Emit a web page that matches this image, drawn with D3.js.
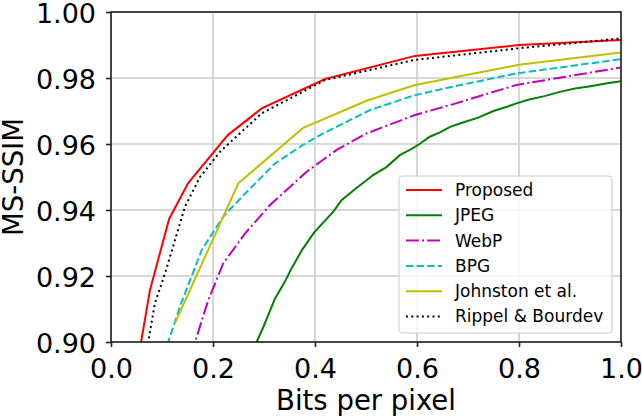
<!DOCTYPE html>
<html>
<head>
<meta charset="utf-8">
<script src="https://cdn.jsdelivr.net/npm/d3@7"></script>
<style>
body{margin:0;background:#fff;}
text{font-family:"DejaVu Sans",sans-serif;fill:#000;}
</style>
</head>
<body>
<svg id="chart" width="642" height="418"></svg>
<script>
//data, [bits per pixel, ms-ssim]
var proposed=[[0.048,0.89],[0.059,0.900],[0.0765,0.9158],[0.114,0.9373],[0.151,0.9481],[0.229,0.9627],[0.2955,0.9708],[0.42,0.9797],[0.596,0.9867],[0.8,0.990],[1.0,0.9915]];
var jpeg=[[0.258,0.890],[0.2856,0.900],[0.30,0.905],[0.3216,0.9132],[0.34,0.918],[0.354,0.9223],[0.375,0.928],[0.397,0.9329],[0.415,0.936],[0.436,0.9395],[0.452,0.943],[0.48,0.9465],[0.501,0.949],[0.514,0.9506],[0.54,0.953],[0.567,0.9567],[0.586,0.9582],[0.605,0.960],[0.625,0.9622],[0.645,0.9635],[0.665,0.9652],[0.69,0.9665],[0.72,0.968],[0.75,0.970],[0.775,0.9712],[0.795,0.9723],[0.82,0.9735],[0.85,0.9745],[0.88,0.9758],[0.91,0.9768],[0.94,0.9775],[0.97,0.9783],[1.0,0.979]];
var webp=[[0.144,0.89],[0.1647,0.900],[0.1908,0.9127],[0.22,0.9238],[0.263,0.9329],[0.3118,0.9415],[0.3837,0.9516],[0.4425,0.9582],[0.501,0.9632],[0.596,0.9688],[0.665,0.9718],[0.795,0.9779],[1.0,0.9832]];
var bpg=[[0.09,0.89],[0.1124,0.900],[0.135,0.9107],[0.178,0.9279],[0.22,0.938],[0.263,0.945],[0.3216,0.9541],[0.376,0.9597],[0.41,0.9627],[0.508,0.9703],[0.596,0.9748],[0.665,0.9772],[0.795,0.9814],[1.0,0.9857]];
var johnston=[[0.1255,0.9057],[0.2497,0.9481],[0.376,0.9648],[0.501,0.9731],[0.596,0.9779],[0.8,0.984],[1.0,0.9877]];
var rippel=[[0.062,0.89],[0.073,0.900],[0.086,0.9117],[0.106,0.9208],[0.145,0.941],[0.1745,0.950],[0.214,0.9577],[0.2955,0.9693],[0.42,0.9794],[0.596,0.9855],[0.8,0.989],[1.0,0.992]];

var names=["Proposed","JPEG","WebP","BPG","Johnston et al.","Rippel & Bourdev"];
var xTicks=[0,0.2,0.4,0.6,0.8,1.0];
var yTicks=[0.90,0.92,0.94,0.96,0.98,1.00];

var series=[
    {name:names[0],data:proposed,color:"#ff0000",dash:null},
    {name:names[1],data:jpeg,color:"#008000",dash:null},
    {name:names[2],data:webp,color:"#bf00bf",dash:"12.8,3.2,2,3.2"},
    {name:names[3],data:bpg,color:"#00bfbf",dash:"7.4,3.2"},
    {name:names[4],data:johnston,color:"#bfbf00",dash:null},
    {name:names[5],data:rippel,color:"#000000",dash:"2,3.3"}
];

var svg=d3.select("#chart");
var pLeft=111,pRight=621,pTop=12,pBottom=342;

var x=d3.scaleLinear().domain([0,1]).range([pLeft,pRight]);
var y=d3.scaleLinear().domain([0.9,1.0]).range([pBottom,pTop]);

svg.append("defs").append("clipPath").attr("id","plotclip")
    .append("rect").attr("x",pLeft).attr("y",pTop).attr("width",pRight-pLeft).attr("height",pBottom-pTop);

//grid
var grid=svg.append("g");
grid.selectAll(".gx").data(xTicks).enter().append("line")
    .attr("x1",function(d){return x(d);}).attr("x2",function(d){return x(d);})
    .attr("y1",pTop).attr("y2",pBottom)
    .attr("stroke","#cccccc").attr("stroke-width",1.6);
grid.selectAll(".gy").data(yTicks).enter().append("line")
    .attr("y1",function(d){return y(d);}).attr("y2",function(d){return y(d);})
    .attr("x1",pLeft).attr("x2",pRight)
    .attr("stroke","#cccccc").attr("stroke-width",1.6);

//curves
var line=d3.line().x(function(d){return x(d[0]);}).y(function(d){return y(d[1]);});
var plot=svg.append("g").attr("clip-path","url(#plotclip)");
series.forEach(function(s){
    var p=plot.append("path").attr("d",line(s.data)).attr("fill","none")
        .attr("stroke",s.color).attr("stroke-width",2);
    if(s.dash){p.attr("stroke-dasharray",s.dash);}
});

//axes
var xAxis=d3.axisBottom(x).tickValues(xTicks).tickFormat(d3.format(".1f")).tickSize(5).tickPadding(12);
var yAxis=d3.axisLeft(y).tickValues(yTicks).tickFormat(d3.format(".2f")).tickSize(5).tickPadding(10);
var gx=svg.append("g").attr("transform","translate(0,"+pBottom+")").call(xAxis);
var gy=svg.append("g").attr("transform","translate("+pLeft+",0)").call(yAxis);
[gx,gy].forEach(function(g){
    g.select(".domain").remove();
    g.selectAll(".tick line").attr("stroke","#222").attr("stroke-width",1.6);
    g.selectAll("text").style("font-size","27px").attr("fill","#000");
});
gy.selectAll("text").attr("dy","0.4em");

//frame
svg.append("rect").attr("x",pLeft).attr("y",pTop).attr("width",pRight-pLeft).attr("height",pBottom-pTop)
    .attr("fill","none").attr("stroke","#222").attr("stroke-width",1.6);

//labels
svg.append("text").attr("x",(pLeft+pRight)/2).attr("y",410).attr("text-anchor","middle")
    .style("font-size","27.5px").text("Bits per pixel");
svg.append("text").attr("transform","translate(23,"+((pTop+pBottom)/2)+") rotate(-90)")
    .attr("text-anchor","middle").style("font-size","27.5px").text("MS-SSIM");

//legend
var lg=svg.append("g");
lg.append("rect").attr("x",399).attr("y",176).attr("width",213).attr("height",157)
    .attr("rx",3).attr("fill","#fff").attr("fill-opacity",0.8)
    .attr("stroke","#cccccc").attr("stroke-width",1);
series.forEach(function(s,i){
    var yy=190+i*25.3;
    var l=lg.append("line").attr("x1",406).attr("x2",442).attr("y1",yy).attr("y2",yy)
        .attr("stroke",s.color).attr("stroke-width",2);
    if(s.dash){l.attr("stroke-dasharray",s.dash);}
    lg.append("text").attr("x",455).attr("y",yy).attr("dy","0.35em")
        .style("font-size","17px").text(s.name);
});
</script>
</body>
</html>
